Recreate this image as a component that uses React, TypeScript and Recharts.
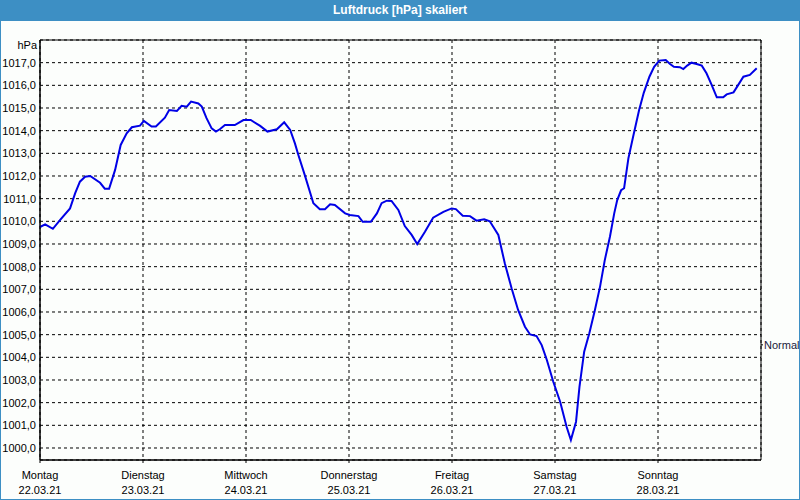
import { CartesianGrid, Line, LineChart, ReferenceArea, ReferenceLine, XAxis, YAxis } from 'recharts'

// hours since Monday 22.03.21 00:00
const hours = [
  0, 1.2, 3.0, 4.7, 7.0, 8.2, 9.3, 10.5, 11.7, 14.0, 15.1, 16.1, 17.5, 18.8, 20.2, 21.4, 23.3, 24.2,
  26.0, 27.0, 29.1, 30.1, 31.9, 33.0, 34.2, 35.2, 36.9, 37.7, 38.8, 40.0, 41.0, 41.9, 43.1, 45.4,
  47.4, 49.1, 51.3, 53.0, 55.2, 56.9, 58.3, 59.4, 60.2, 61.7, 63.7, 65.2, 66.4, 67.6, 68.7, 71.1,
  72.2, 74.2, 75.2, 77.1, 78.5, 79.6, 80.8, 81.9, 83.5, 85.0, 86.6, 87.9, 89.7, 91.6, 94.0, 95.9,
  96.9, 98.5, 100.2, 101.7, 103.5, 104.8, 106.8, 108.3, 109.9, 111.4, 113.0, 114.2, 115.7, 116.9,
  118.1, 119.6, 121.2, 122.7, 123.7, 124.9, 125.7, 126.8, 128.0, 129.3, 130.5, 131.6, 132.8, 133.8,
  134.5, 135.4, 136.1, 137.1, 138.2, 139.6, 140.7, 142.0, 143.1, 144.3, 145.8, 146.8, 147.7, 149.1,
  149.9, 150.8, 151.8, 153.0, 154.2, 155.3, 156.5, 157.7, 159.2, 160.0, 161.6, 162.7, 163.9, 165.4,
  167.0,
]

const pressure = [
  1009.75, 1009.87, 1009.67, 1010.06, 1010.57, 1011.24, 1011.75, 1011.97, 1012.0, 1011.7, 1011.44,
  1011.44, 1012.27, 1013.37, 1013.88, 1014.15, 1014.22, 1014.43, 1014.18, 1014.18, 1014.57, 1014.91,
  1014.87, 1015.1, 1015.06, 1015.28, 1015.2, 1015.06, 1014.55, 1014.1, 1013.96, 1014.06, 1014.25,
  1014.25, 1014.47, 1014.47, 1014.21, 1013.96, 1014.06, 1014.37, 1014.03, 1013.44, 1012.93, 1012.04,
  1010.8, 1010.53, 1010.53, 1010.75, 1010.72, 1010.35, 1010.28, 1010.23, 1009.98, 1009.98, 1010.35,
  1010.8, 1010.91, 1010.9, 1010.5, 1009.79, 1009.4, 1009.0, 1009.54, 1010.16, 1010.42, 1010.57,
  1010.54, 1010.25, 1010.23, 1010.03, 1010.09, 1010.0, 1009.4, 1008.15, 1007.04, 1006.09, 1005.35,
  1005.01, 1004.94, 1004.54, 1003.88, 1002.92, 1002.04, 1000.94, 1000.35, 1001.16, 1002.7, 1004.25,
  1005.06, 1006.09, 1007.12, 1008.29, 1009.32, 1010.35, 1010.94, 1011.37, 1011.46, 1012.78, 1013.73,
  1014.91, 1015.68, 1016.38, 1016.82, 1017.09, 1017.12, 1016.94, 1016.82, 1016.8, 1016.72, 1016.87,
  1017.0, 1016.94, 1016.87, 1016.53, 1016.02, 1015.47, 1015.47, 1015.6, 1015.69, 1016.02, 1016.38,
  1016.46, 1016.75,
]

const dayTicks = [0, 24, 48, 72, 96, 120, 144]
const dayNames = ['Montag', 'Dienstag', 'Mittwoch', 'Donnerstag', 'Freitag', 'Samstag', 'Sonntag']
const dayDates = ['22.03.21', '23.03.21', '24.03.21', '25.03.21', '26.03.21', '27.03.21', '28.03.21']
const pressureTicks = [
  1000, 1001, 1002, 1003, 1004, 1005, 1006, 1007, 1008, 1009, 1010, 1011, 1012, 1013, 1014, 1015,
  1016, 1017,
]
const hourRange = [0, 168]
const pressureRange = [999.47, 1018]
const normalLevel = 1004.55

const data = hours.map((h, i) => ({ h, p: pressure[i] }))

const BLUE = '#3d8fc4'
const FONT = '"Liberation Sans", Arial, sans-serif'

function DayTick(props: any) {
  const { x, y, payload } = props
  const i = dayTicks.indexOf(payload.value)
  return (
    <g>
      <text x={x} y={y} dy={14} textAnchor="middle" fill="#000" fontSize={11} fontFamily={FONT}>
        {dayNames[i]}
      </text>
      <text x={x} y={y} dy={28.5} textAnchor="middle" fill="#000" fontSize={11} fontFamily={FONT}>
        {dayDates[i]}
      </text>
    </g>
  )
}

// small tick outside the right frame plus the "Normal" text
function NormalLabel(props: any) {
  const { viewBox } = props
  const xr = viewBox.x + viewBox.width
  const y = viewBox.y
  return (
    <g>
      <line x1={xr} x2={xr + 2} y1={y} y2={y} stroke="#000" />
      <text x={xr + 3} y={y} dy="0.355em" textAnchor="start" fill="#1a1a3a" fontSize={11} fontFamily={FONT}>
        Normal
      </text>
    </g>
  )
}

export default function App() {
  return (
    <div
      style={{
        position: 'relative',
        width: 800,
        height: 500,
        boxSizing: 'border-box',
        background: '#fcfefc',
        border: `1px solid ${BLUE}`,
        borderTop: 'none',
        fontFamily: FONT,
      }}
    >
      <style>{'body{margin:0}'}</style>
      <div
        style={{
          position: 'absolute',
          left: -1,
          top: 0,
          width: 800,
          height: 21,
          background: BLUE,
          color: '#fff',
          fontWeight: 'bold',
          fontSize: 12,
          lineHeight: '21px',
          textAlign: 'center',
        }}
      >
        Luftdruck [hPa] skaliert
      </div>
      <div
        style={{
          position: 'absolute',
          left: -1,
          top: 39,
          width: 37,
          textAlign: 'right',
          fontSize: 11,
          lineHeight: '13px',
          color: '#000',
        }}
      >
        hPa
      </div>
      <div style={{ position: 'absolute', left: -1, top: 0 }}>
        <LineChart width={800} height={500} data={data} margin={{ top: 40, right: 39, bottom: 0, left: 0 }}>
          <CartesianGrid stroke="#000" strokeDasharray="3 3" />
          <XAxis
            dataKey="h"
            type="number"
            domain={hourRange}
            ticks={dayTicks}
            height={40}
            axisLine={{ stroke: '#000' }}
            tickLine={{ stroke: '#000' }}
            tickSize={3}
            tickMargin={2}
            tick={<DayTick />}
            interval={0}
          />
          <YAxis
            type="number"
            domain={pressureRange}
            ticks={pressureTicks}
            width={40}
            interval={0}
            axisLine={{ stroke: '#000' }}
            tickLine={false}
            tickSize={2}
            tickMargin={2}
            tick={{ fill: '#000', fontSize: 11, fontFamily: FONT }}
            tickFormatter={(v) => `${v},0`}
          />
          <ReferenceArea
            x1={hourRange[0]}
            x2={hourRange[1]}
            y1={pressureRange[0]}
            y2={pressureRange[1]}
            stroke="#000"
            strokeOpacity={1}
            fill="none"
            ifOverflow="visible"
          />
          <ReferenceLine y={normalLevel} stroke="none" ifOverflow="visible" label={<NormalLabel />} />
          <Line
            type="linear"
            dataKey="p"
            stroke="#0000e6"
            strokeWidth={2}
            dot={false}
            isAnimationActive={false}
          />
        </LineChart>
      </div>
    </div>
  )
}
